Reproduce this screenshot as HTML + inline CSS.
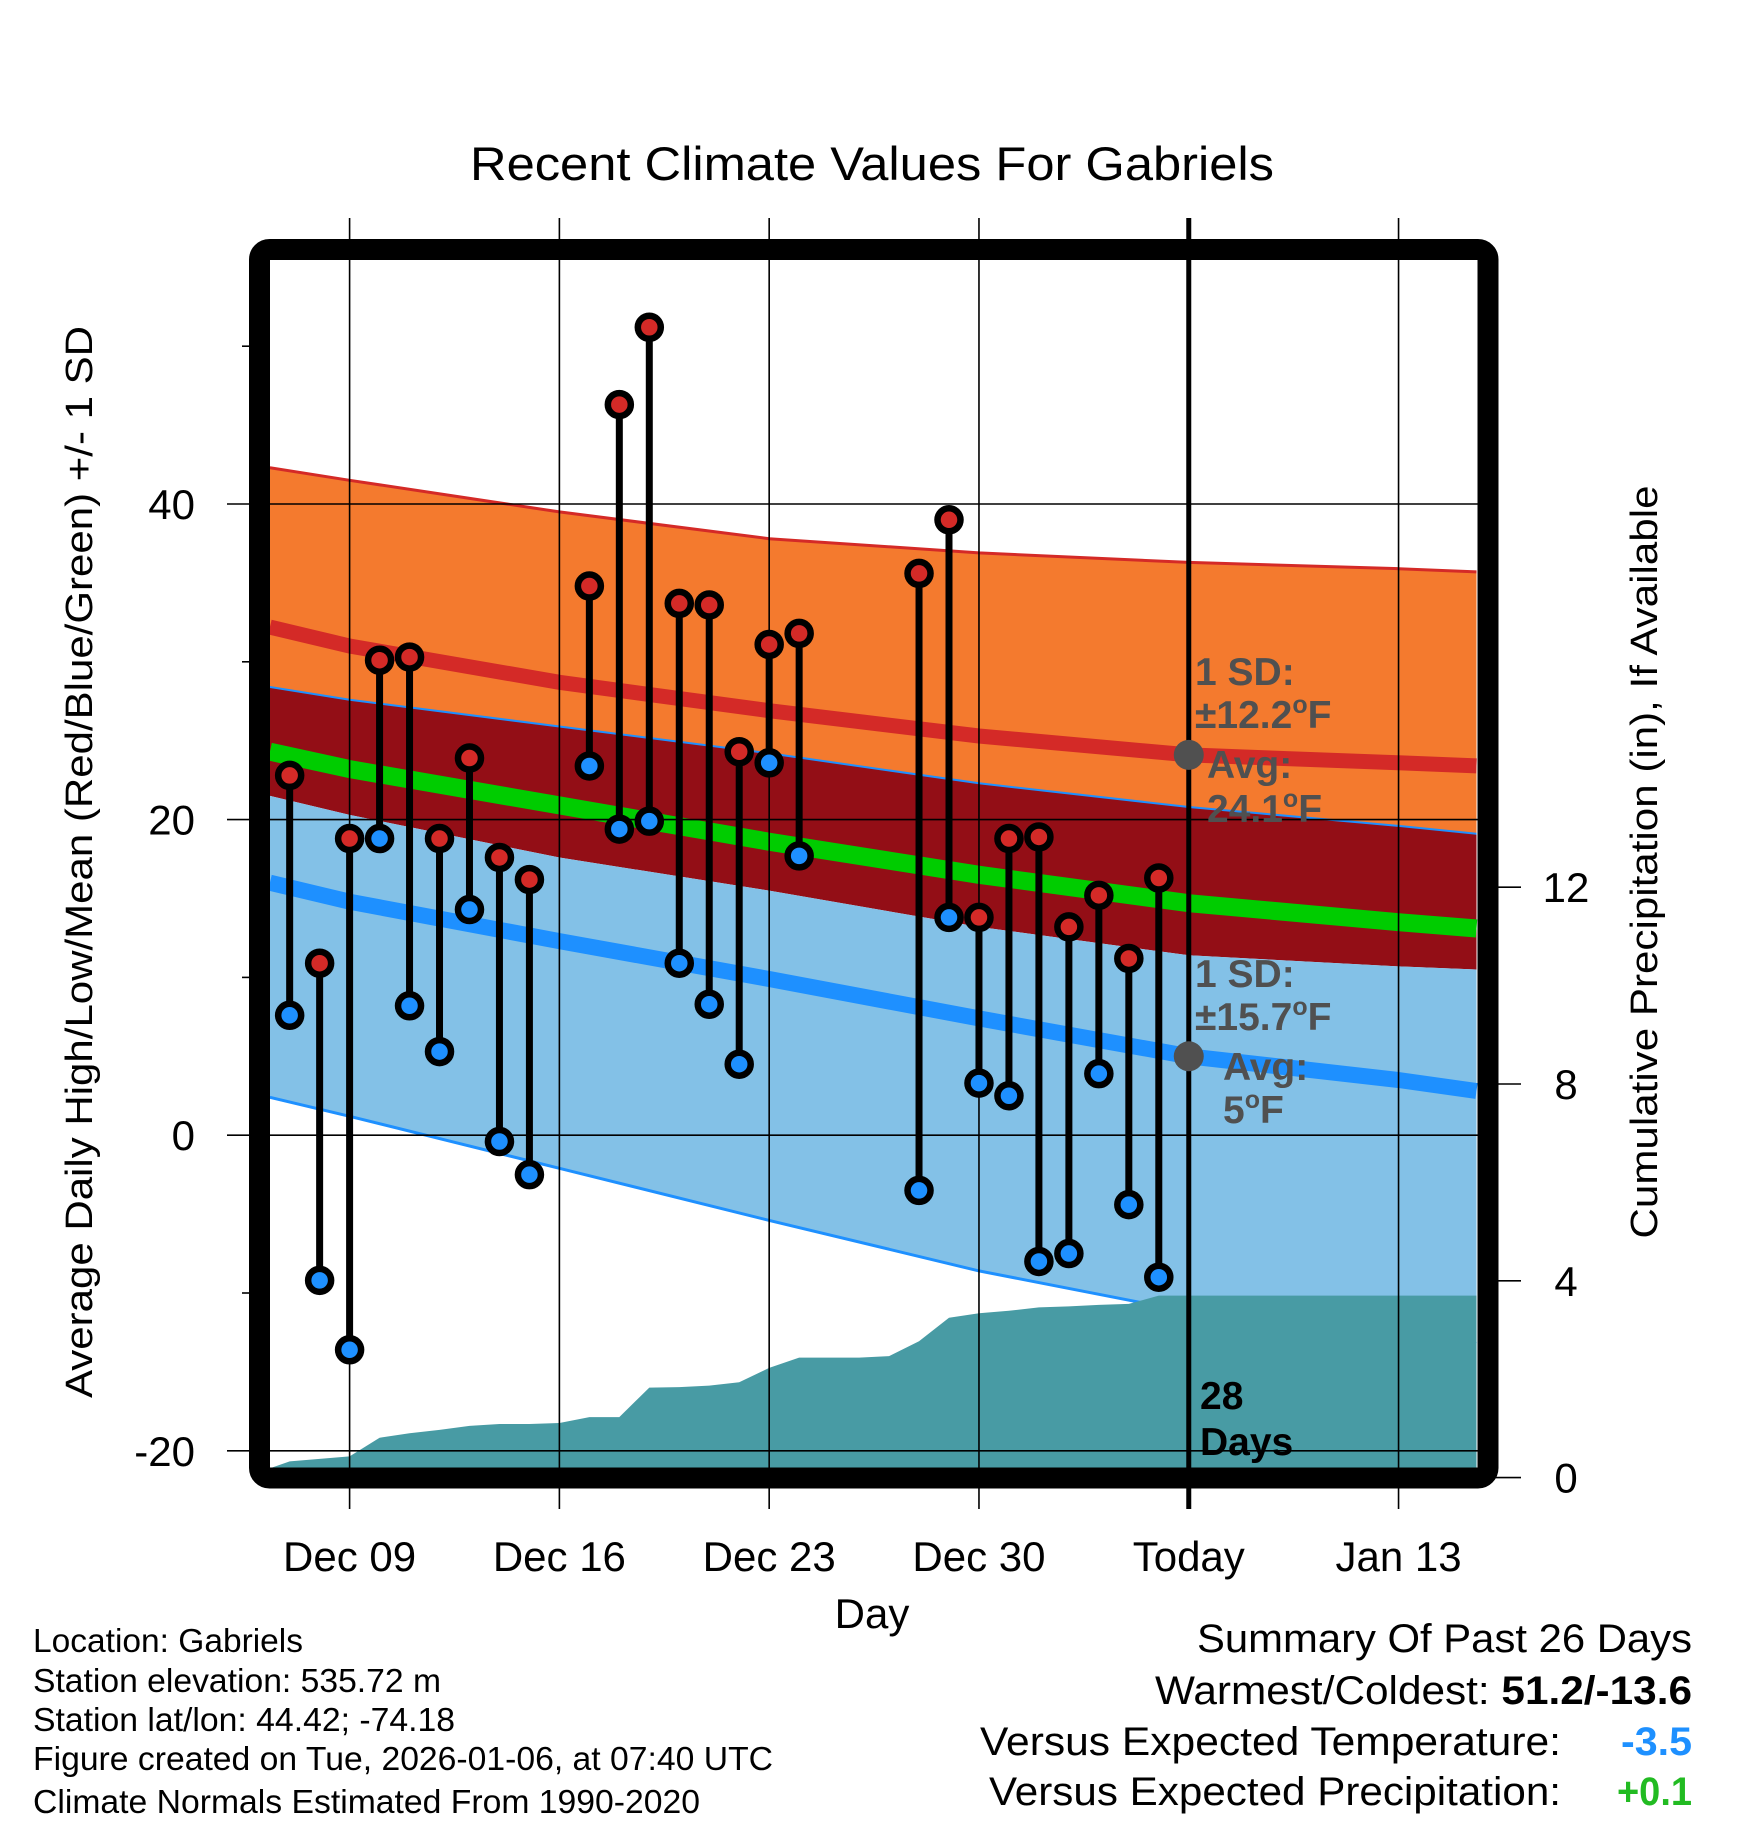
<!DOCTYPE html>
<html><head><meta charset="utf-8"><style>
html,body{margin:0;padding:0;background:#fff}
svg{display:block;font-family:"Liberation Sans",Arial,sans-serif}
</style></head><body>
<svg id="chart" width="1748" height="1828" viewBox="0 0 1748 1828" xmlns="http://www.w3.org/2000/svg">
<defs><clipPath id="plotclip"><rect x="270" y="260" width="1208" height="1208"/></clipPath></defs>
<text x="872" y="180" font-size="47" text-anchor="middle" textLength="804" lengthAdjust="spacingAndGlyphs">Recent Climate Values For Gabriels</text>
<g id="plot"></g>
<text transform="translate(92,862) rotate(-90)" font-size="38" text-anchor="middle" textLength="1072" lengthAdjust="spacingAndGlyphs">Average Daily High/Low/Mean (Red/Blue/Green) +/- 1 SD</text>
<text transform="translate(1657,862) rotate(-90)" font-size="38" text-anchor="middle" textLength="753" lengthAdjust="spacingAndGlyphs">Cumulative Precipitation (in), If Available</text>
<text x="872" y="1628" font-size="42" text-anchor="middle">Day</text>
<g font-size="33" lengthAdjust="spacingAndGlyphs">
<text x="33" y="1652" textLength="270" lengthAdjust="spacingAndGlyphs">Location: Gabriels</text>
<text x="33" y="1692" textLength="408" lengthAdjust="spacingAndGlyphs">Station elevation: 535.72 m</text>
<text x="33" y="1731" textLength="422" lengthAdjust="spacingAndGlyphs">Station lat/lon: 44.42; -74.18</text>
<text x="33" y="1770" textLength="740" lengthAdjust="spacingAndGlyphs">Figure created on Tue, 2026-01-06, at 07:40 UTC</text>
<text x="33" y="1813" textLength="667" lengthAdjust="spacingAndGlyphs">Climate Normals Estimated From 1990-2020</text>
</g>
<g font-size="40">
<text x="1197" y="1652" textLength="495" lengthAdjust="spacingAndGlyphs">Summary Of Past 26 Days</text>
<text x="1155" y="1704" textLength="537" lengthAdjust="spacingAndGlyphs">Warmest/Coldest: <tspan font-weight="bold">51.2/-13.6</tspan></text>
<text x="980" y="1755" textLength="581" lengthAdjust="spacingAndGlyphs">Versus Expected Temperature:</text>
<text x="1621" y="1755" font-weight="bold" fill="#1e90ff" textLength="71" lengthAdjust="spacingAndGlyphs">-3.5</text>
<text x="989" y="1805" textLength="572" lengthAdjust="spacingAndGlyphs">Versus Expected Precipitation:</text>
<text x="1617" y="1805" font-weight="bold" fill="#22bb22" textLength="75" lengthAdjust="spacingAndGlyphs">+0.1</text>
</g>
</svg>
<script>
// day offsets from Dec 09
const obsDays = [-2,-1,0,1,2,3,4,5,6,8,9,10,11,12,13,14,15,19,20,21,22,23,24,25,26,27];
const highs = [22.8,10.9,18.8,30.1,30.3,18.8,23.9,17.6,16.2,34.8,46.3,51.2,33.7,33.6,24.3,31.1,31.8,35.6,39.0,13.8,18.8,18.9,13.2,15.2,11.2,16.3];
const lows = [7.6,-9.2,-13.6,18.8,8.2,5.3,14.3,-0.4,-2.5,23.4,19.4,19.9,10.9,8.3,4.5,23.6,17.7,-3.5,13.8,3.3,2.5,-8.0,-7.5,3.9,-4.4,-9.0];
const normDays = [-2.66,0,7,14,21,28,35,37.6];
const highPlusSD = [42.3,41.5,39.5,37.8,36.9,36.3,35.9,35.7];
const highNorm = [32.2,31.0,28.7,26.9,25.3,24.1,23.6,23.4];
const highMinusSD = [28.4,27.6,25.9,24.2,22.3,20.8,19.6,19.1];
const meanNorm = [24.3,23.2,20.9,18.6,16.5,14.7,13.5,13.1];
const lowPlusSD = [21.5,20.3,17.6,15.5,13.2,11.4,10.7,10.5];
const lowNorm = [16.0,14.8,12.3,9.9,7.4,5.0,3.5,2.8];
const lowMinusSD = [2.4,1.2,-2.1,-5.4,-8.6,-11.2,-12.6,-13.2];
const precipDays = [-2.66,-2,-1,0,1,2,3,4,5,6,7,8,9,10,11,12,13,14,15,16,17,18,19,20,21,22,23,24,25,26,27,37.6];
const precipCum = [0.19,0.33,0.38,0.43,0.81,0.90,0.97,1.05,1.09,1.09,1.11,1.23,1.23,1.83,1.84,1.87,1.94,2.23,2.44,2.44,2.44,2.47,2.77,3.25,3.34,3.39,3.46,3.48,3.51,3.53,3.70,3.70];
const xTickDays = [0,7,14,21,28,35];
const xTickLabels = ["Dec 09","Dec 16","Dec 23","Dec 30","Today","Jan 13"];
const yTicks = [40,20,0,-20];
const yMinorTicks = [50,30,10,-10];
const y2Ticks = [0,4,8,12];
const todayDay = 28;

const NS="http://www.w3.org/2000/svg";
const X = d => 349.6 + d*29.97;
const Y = t => 1135.2 - t*15.78;
const Y2 = p => 1477.6 - p*49.2;
const plot=document.getElementById('plot');
function mk(tag,attrs,parent){const e=document.createElementNS(NS,tag);for(const k in attrs)e.setAttribute(k,attrs[k]);(parent||plot).appendChild(e);return e;}
function pts(days,vals,fy){return days.map((d,i)=>X(d).toFixed(1)+','+fy(vals[i]).toFixed(1));}
function band(top,bot,fill,name){
  const p=pts(normDays,top,Y).concat(pts(normDays,bot,Y).reverse());
  const e=mk('polygon',{points:p.join(' '),fill:fill},clip);
  
  
}
function line(vals,color,w,name){
  const e=mk('polyline',{points:pts(normDays,vals,Y).join(' '),fill:'none',stroke:color,'stroke-width':w},clip);
  
  
}
const clip=mk('g',{'clip-path':'url(#plotclip)'});


band(highPlusSD,highMinusSD,'#f47a2e','high-sd-band');
band(highMinusSD,lowPlusSD,'#930e16','overlap-band');
band(lowPlusSD,lowMinusSD,'#83c1e7','low-sd-band');
line(highPlusSD,'#d42a27',3,'high-plus-sd-line');
line(highMinusSD,'#1e90ff',2,'high-minus-sd-line');
line(lowMinusSD,'#1e90ff',3,'low-minus-sd-line');
line(highNorm,'#d42a27',15,'normal-high-line');
line(meanNorm,'#00cc00',18,'normal-mean-line');
line(lowNorm,'#1e90ff',16,'normal-low-line');
// precipitation
{
  const p=pts(precipDays,precipCum,Y2);
  p.push(X(37.6).toFixed(1)+',1480',X(-2.66).toFixed(1)+',1480');
  const e=mk('polygon',{points:p.join(' '),fill:'#489ba4'},clip);
  
  
}
// grid
xTickDays.forEach((d,i)=>{
  const g=mk('line',{x1:X(d),x2:X(d),y1:218,y2:1509,stroke:'#000','stroke-width':1.6});
  
  
  const t=mk('text',{x:X(d),y:1571,'font-size':42,'text-anchor':'middle'});
  t.textContent=xTickLabels[i];
  
  
});
yTicks.forEach(v=>{
  const g=mk('line',{x1:227,x2:1478,y1:Y(v),y2:Y(v),stroke:'#000','stroke-width':1.6});
  
  
  const t=mk('text',{x:195,y:Y(v)+15,'font-size':42,'text-anchor':'end'});
  t.textContent=v;
  
  
});
yMinorTicks.forEach(v=>{
  const g=mk('line',{x1:242,x2:252,y1:Y(v),y2:Y(v),stroke:'#000','stroke-width':1.6});
  
  
});
y2Ticks.forEach(v=>{
  const g=mk('line',{x1:1495,x2:1521,y1:Y2(v),y2:Y2(v),stroke:'#000','stroke-width':1.6});
  
  
  const t=mk('text',{x:1566,y:Y2(v)+15,'font-size':42,'text-anchor':'middle'});
  t.textContent=v;
  
  
});
// today line
{
  const e=mk('line',{x1:X(todayDay),x2:X(todayDay),y1:218,y2:1509,stroke:'#000','stroke-width':5});
  
  
}
// stems & dots
obsDays.forEach((d,i)=>{
  const s=mk('line',{x1:X(d),x2:X(d),y1:Y(highs[i]),y2:Y(lows[i]),stroke:'#000','stroke-width':7});
  
  
});
obsDays.forEach((d,i)=>{
  const h=mk('circle',{cx:X(d),cy:Y(highs[i]),r:11.5,fill:'#d42a27',stroke:'#000','stroke-width':6.5});
  
  
  const l=mk('circle',{cx:X(d),cy:Y(lows[i]),r:11.5,fill:'#1e90ff',stroke:'#000','stroke-width':6.5});
  
  
});
// annotations
function ann(x,y,txt,name,color){
  const t=mk('text',{x:x,y:y,'font-size':39,'font-weight':'bold',fill:color||'#505050'});
  t.innerHTML=txt;
  
  
}
{
  const c1=mk('circle',{cx:X(todayDay),cy:Y(24.1),r:15,fill:'#505050'});
  
  
  const c2=mk('circle',{cx:X(todayDay),cy:Y(5),r:15,fill:'#505050'});
  
  
}
ann(1195,685,'1 SD:','high-sd-label');
ann(1195,728,'±12.2<tspan dy="-15" font-size="25">o</tspan><tspan dy="15">F</tspan>','high-sd-value');
ann(1207,778,'Avg:','high-avg-label');
ann(1207,822,'24.1<tspan dy="-15" font-size="25">o</tspan><tspan dy="15">F</tspan>','high-avg-value');
ann(1195,987,'1 SD:','low-sd-label');
ann(1195,1030,'±15.7<tspan dy="-15" font-size="25">o</tspan><tspan dy="15">F</tspan>','low-sd-value');
ann(1223,1080,'Avg:','low-avg-label');
ann(1223,1123,'5<tspan dy="-15" font-size="25">o</tspan><tspan dy="15">F</tspan>','low-avg-value');
ann(1200,1409,'28','days-count','#000');
ann(1200,1455,'Days','days-label','#000');
// frame
{
  const f=mk('rect',{x:259.5,y:249.5,width:1228.5,height:1228.5,rx:10,fill:'none',stroke:'#000','stroke-width':21});
  
  
}
</script>
</body></html>
